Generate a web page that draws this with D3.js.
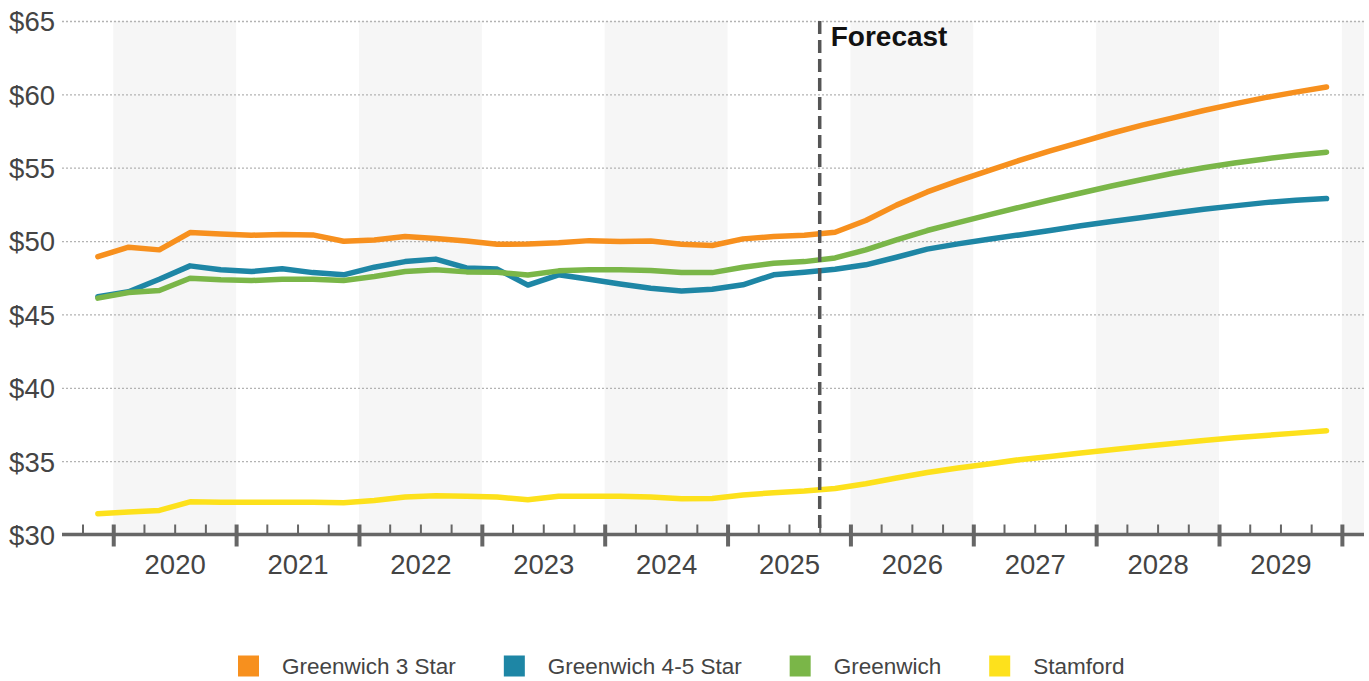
<!DOCTYPE html>
<html>
<head>
<meta charset="utf-8">
<script src="https://cdn.jsdelivr.net/npm/d3@7"></script>
<style>
  html, body { margin: 0; padding: 0; background: #fff; }
  svg { display: block; font-family: "Liberation Sans", Arial, Helvetica, sans-serif; }
</style>
</head>
<body>
<svg id="chart" width="1369" height="681"></svg>
<script>
// Quarterly average rates, 2019 Q4 through 2029 Q4
const quarters = [
  "2019 Q4",
  "2020 Q1", "2020 Q2", "2020 Q3", "2020 Q4",
  "2021 Q1", "2021 Q2", "2021 Q3", "2021 Q4",
  "2022 Q1", "2022 Q2", "2022 Q3", "2022 Q4",
  "2023 Q1", "2023 Q2", "2023 Q3", "2023 Q4",
  "2024 Q1", "2024 Q2", "2024 Q3", "2024 Q4",
  "2025 Q1", "2025 Q2", "2025 Q3", "2025 Q4",
  "2026 Q1", "2026 Q2", "2026 Q3", "2026 Q4",
  "2027 Q1", "2027 Q2", "2027 Q3", "2027 Q4",
  "2028 Q1", "2028 Q2", "2028 Q3", "2028 Q4",
  "2029 Q1", "2029 Q2", "2029 Q3", "2029 Q4"
];

const greenwich3Star = [
  48.94, 49.58, 49.40, 50.58, 50.49, 50.40, 50.44, 50.42, 49.99, 50.08,
  50.31, 50.17, 50.01, 49.78, 49.80, 49.88, 50.03, 49.97, 50.01, 49.79,
  49.70, 50.15, 50.31, 50.40, 50.60, 51.40, 52.45, 53.35, 54.10, 54.80,
  55.50, 56.15, 56.75, 57.35, 57.90, 58.40, 58.90, 59.35, 59.78, 60.15,
  60.50
];

const greenwich45Star = [
  46.20, 46.55, 47.40, 48.31, 48.04, 47.92, 48.11, 47.85, 47.70, 48.22,
  48.60, 48.77, 48.17, 48.09, 47.00, 47.70, 47.40, 47.08, 46.79, 46.59,
  46.72, 47.02, 47.70, 47.88, 48.08, 48.38, 48.90, 49.45, 49.81, 50.13,
  50.42, 50.72, 51.04, 51.33, 51.60, 51.90, 52.17, 52.40, 52.62, 52.78,
  52.90
];

const greenwichAll = [
  46.11, 46.49, 46.63, 47.47, 47.36, 47.31, 47.40, 47.40, 47.31, 47.58,
  47.92, 48.04, 47.90, 47.87, 47.69, 47.97, 48.04, 48.04, 47.99, 47.85,
  47.85, 48.22, 48.49, 48.60, 48.85, 49.40, 50.08, 50.72, 51.26, 51.78,
  52.30, 52.80, 53.28, 53.75, 54.20, 54.62, 55.00, 55.32, 55.60, 55.85,
  56.06
];

const stamford = [
  31.42, 31.53, 31.64, 32.23, 32.20, 32.19, 32.20, 32.20, 32.17, 32.32,
  32.55, 32.64, 32.60, 32.55, 32.37, 32.60, 32.60, 32.60, 32.55, 32.44,
  32.46, 32.69, 32.85, 32.96, 33.14, 33.46, 33.85, 34.23, 34.53, 34.80,
  35.10, 35.32, 35.55, 35.78, 36.00, 36.21, 36.41, 36.59, 36.75, 36.91,
  37.07
];

const seriesNames = ["Greenwich 3 Star", "Greenwich 4-5 Star", "Greenwich", "Stamford"];
const seriesValues = [greenwich3Star, greenwich45Star, greenwichAll, stamford];
const seriesColors = ["#f7901e", "#1e86a5", "#7ab648", "#fde11c"];

const yearLabels = [2020, 2021, 2022, 2023, 2024, 2025, 2026, 2027, 2028, 2029];
const yTicks = [30, 35, 40, 45, 50, 55, 60, 65];
const shadedYears = [2020, 2022, 2024, 2026, 2028, 2030];
const forecastStart = 2025.75;
const forecastLabel = "Forecast";

// ---- layout ----
const plotLeft = 62, plotRight = 1364, plotTop = 21, plotBottom = 534.5;

const svg = d3.select("#chart");

// quarter label -> fractional year at the middle of the quarter
const qPos = quarters.map(q => {
  const [yr, qq] = q.split(" Q");
  return +yr + (+qq - 0.5) / 4;
});

const x = d3.scaleLinear().domain([2019.583, 2030.18]).range([plotLeft, plotRight]);
const y = d3.scaleLinear().domain([30, 65]).range([plotBottom, plotTop]);

// alternating year shading
svg.append("g")
  .selectAll("rect")
  .data(shadedYears)
  .join("rect")
  .attr("x", d => x(d))
  .attr("y", plotTop)
  .attr("width", d => Math.min(x(d + 1), plotRight) - x(d))
  .attr("height", plotBottom - plotTop)
  .attr("fill", "#f6f6f6");

// y axis: labels + dotted grid
const yAxis = svg.append("g")
  .attr("transform", `translate(${plotLeft},0)`)
  .call(d3.axisLeft(y)
    .tickValues(yTicks)
    .tickSize(-(plotRight - plotLeft))
    .tickPadding(7)
    .tickFormat(d => "$" + d));
yAxis.select(".domain").remove();
yAxis.selectAll(".tick line")
  .attr("stroke", "#b3b3b3")
  .attr("stroke-width", 1.3)
  .attr("stroke-dasharray", "2,2")
  .filter(d => d === 30).remove();
yAxis.selectAll(".tick text")
  .attr("fill", "#444")
  .attr("font-size", 27.5)
  .attr("dy", "0.36em");

// series lines
const line = d3.line()
  .x((d, i) => x(qPos[i]))
  .y(d => y(d));

svg.append("g")
  .selectAll("path")
  .data(seriesValues)
  .join("path")
  .attr("d", d => line(d))
  .attr("fill", "none")
  .attr("stroke", (d, i) => seriesColors[i])
  .attr("stroke-width", 5.5)
  .attr("stroke-linecap", "round")
  .attr("stroke-linejoin", "round");

// x axis: baseline, year ticks, quarter ticks, year labels
const xAxisG = svg.append("g").attr("transform", `translate(0,${plotBottom})`);

const quarterTicks = [];
for (let yr = 2019; yr <= 2029; yr++) {
  [0.25, 0.5, 0.75].forEach(f => { if (yr + f > 2019.6) quarterTicks.push(yr + f); });
}

const minorAxis = xAxisG.append("g")
  .call(d3.axisBottom(x).tickValues(quarterTicks).tickSize(0).tickFormat(""));
minorAxis.select(".domain").remove();
minorAxis.selectAll(".tick line")
  .attr("y1", -10).attr("y2", 0)
  .attr("stroke", "#666").attr("stroke-width", 2);

xAxisG.append("line")
  .attr("x1", plotLeft).attr("x2", plotRight)
  .attr("y1", 0).attr("y2", 0)
  .attr("stroke", "#666").attr("stroke-width", 3.5);

const majorAxis = xAxisG.append("g")
  .call(d3.axisBottom(x).tickValues(d3.range(2020, 2031)).tickSize(0).tickFormat(""));
majorAxis.select(".domain").remove();
majorAxis.selectAll(".tick line")
  .attr("y1", -10).attr("y2", 12)
  .attr("stroke", "#666").attr("stroke-width", 4);

const labelAxis = xAxisG.append("g")
  .call(d3.axisBottom(x)
    .tickValues(yearLabels.map(d => d + 0.5))
    .tickSize(0)
    .tickPadding(20)
    .tickFormat(d => String(Math.floor(d))));
labelAxis.select(".domain").remove();
labelAxis.selectAll(".tick text")
  .attr("fill", "#444")
  .attr("font-size", 27.5);

// forecast divider
svg.append("line")
  .attr("x1", x(forecastStart)).attr("x2", x(forecastStart))
  .attr("y1", plotTop).attr("y2", plotBottom)
  .attr("stroke", "#555")
  .attr("stroke-width", 3.5)
  .attr("stroke-dasharray", "13,6");

svg.append("text")
  .attr("x", x(forecastStart) + 11)
  .attr("y", 46)
  .attr("font-size", 28)
  .attr("font-weight", "bold")
  .attr("fill", "#111")
  .text(forecastLabel);

// legend
const legend = svg.append("g").attr("transform", "translate(0,666)");
let lx = 238;
seriesNames.forEach((name, i) => {
  const item = legend.append("g").attr("transform", `translate(${lx},0)`);
  item.append("rect")
    .attr("x", 0).attr("y", -10.5)
    .attr("width", 21).attr("height", 21)
    .attr("fill", seriesColors[i]);
  const t = item.append("text")
    .attr("x", 44)
    .attr("y", 0)
    .attr("dy", "0.35em")
    .attr("font-size", 22.5)
    .attr("fill", "#444")
    .text(name);
  lx += 44 + t.node().getComputedTextLength() + 48;
});
</script>
</body>
</html>
